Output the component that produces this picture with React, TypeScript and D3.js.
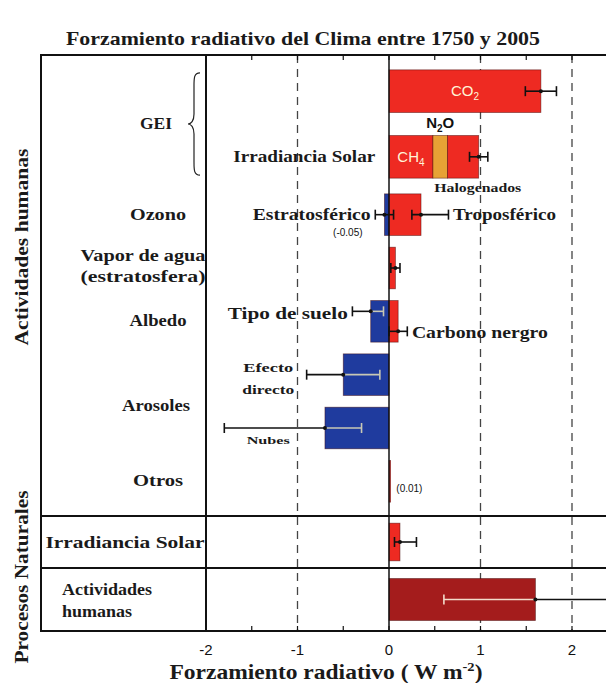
import React from "react";
import * as d3 from "d3";

const width = 606;
const height = 683;

const SERIF = "'Liberation Serif', 'Times New Roman', serif";
const SANS = "'Liberation Sans', Arial, sans-serif";

// rows, top to bottom, grouped by section
const geiRows = ["co2", "noCo2"];
const otherRows = ["ozono", "vapor", "albedo", "directo", "nubes", "otros"];
const naturalRows = ["solar"];
const netRows = ["neto"];

// bar pieces (W m-2)
const segments = [
  { row: "co2", from: 0, to: 1.66, kind: "pos" },
  { row: "noCo2", from: 0, to: 0.48, kind: "pos" },
  { row: "noCo2", from: 0.48, to: 0.64, kind: "n2o" },
  { row: "noCo2", from: 0.64, to: 0.98, kind: "pos" },
  { row: "ozono", from: -0.05, to: 0, kind: "neg" },
  { row: "ozono", from: 0, to: 0.35, kind: "pos" },
  { row: "vapor", from: 0, to: 0.07, kind: "pos" },
  { row: "albedo", from: -0.2, to: 0, kind: "neg" },
  { row: "albedo", from: 0, to: 0.1, kind: "pos" },
  { row: "directo", from: -0.5, to: 0, kind: "neg" },
  { row: "nubes", from: -0.7, to: 0, kind: "neg" },
  { row: "otros", from: 0, to: 0.01, kind: "pos" },
  { row: "solar", from: 0, to: 0.12, kind: "pos" },
  { row: "neto", from: 0, to: 1.6, kind: "net" },
];

// uncertainty ranges; lane = sub-position inside the row
const ranges = [
  { row: "co2", lo: 1.49, hi: 1.83, mid: 1.66, lane: 0, barFrom: 0, barTo: 1.66, light: false },
  { row: "noCo2", lo: 0.88, hi: 1.08, mid: 0.98, lane: 0, barFrom: 0, barTo: 0.98, light: false },
  { row: "ozono", lo: -0.15, hi: 0.05, mid: -0.05, lane: 0, barFrom: -0.05, barTo: 0, light: false },
  { row: "ozono", lo: 0.25, hi: 0.65, mid: 0.35, lane: 0, barFrom: 0, barTo: 0.35, light: false },
  { row: "vapor", lo: 0.02, hi: 0.12, mid: 0.07, lane: 0, barFrom: 0, barTo: 0.07, light: false },
  { row: "albedo", lo: -0.4, hi: -0.06, mid: -0.2, lane: -1, barFrom: -0.2, barTo: 0, light: true },
  { row: "albedo", lo: 0.0, hi: 0.2, mid: 0.1, lane: 1, barFrom: 0, barTo: 0.1, light: false },
  { row: "directo", lo: -0.9, hi: -0.1, mid: -0.5, lane: 0, barFrom: -0.5, barTo: 0, light: true },
  { row: "nubes", lo: -1.8, hi: -0.3, mid: -0.7, lane: 0, barFrom: -0.7, barTo: 0, light: true },
  { row: "solar", lo: 0.06, hi: 0.3, mid: 0.12, lane: 0, barFrom: 0, barTo: 0.12, light: false },
  { row: "neto", lo: 0.6, hi: 2.4, mid: 1.6, lane: 0, barFrom: 0, barTo: 1.6, light: true },
];

const xTicks = [-2, -1, 0, 1, 2];
const dashedAt = [-1, 1, 2];

const colors = {
  pos: "#ee2a22",
  n2o: "#e7a235",
  neg: "#1f3b9e",
  net: "#a41c1c",
};

// layout
const frame = { left: 41, top: 55, bottom: 631, divider: 206 };
const sec1 = 516;
const sec2 = 568;

const x = d3.scaleLinear().domain([-2, 2]).range([206, 572]);

const yGei = d3.scaleBand().domain(geiRows).range([60, 188]).paddingInner(0.35).paddingOuter(0.15);
const yOther = d3.scaleBand().domain(otherRows).range([188, 508]).paddingInner(0.22).paddingOuter(0.11);
const ySolar = d3.scaleBand().domain(naturalRows).range([sec1, sec2]).padding(0.16);
const yNet = d3.scaleBand().domain(netRows).range([sec2, frame.bottom]).padding(0.2);

function band(row: string) {
  for (const s of [yGei, yOther, ySolar, yNet]) {
    if (s.domain().includes(row)) return { y: s(row) as number, h: s.bandwidth() };
  }
  return { y: 0, h: 0 };
}
const mid = (row: string) => band(row).y + band(row).h / 2;

function ErrorBar({ r }: { r: (typeof ranges)[number] }) {
  const y = mid(r.row) + r.lane * 10;
  const cap = 5;
  const lightCol = r.row === "neto" ? "#f3dccb" : "#c8c8b4";
  const inLo = Math.max(r.lo, r.barFrom);
  const inHi = Math.min(r.hi, r.barTo);
  const parts: { a: number; b: number; c: string }[] = [];
  if (r.light && inHi > inLo) {
    if (r.lo < inLo) parts.push({ a: r.lo, b: inLo, c: "#111" });
    parts.push({ a: inLo, b: inHi, c: lightCol });
    if (r.hi > inHi) parts.push({ a: inHi, b: r.hi, c: "#111" });
  } else {
    parts.push({ a: r.lo, b: r.hi, c: "#111" });
  }
  const capCol = (v: number) => (r.light && v >= r.barFrom && v <= r.barTo ? lightCol : "#111");
  return (
    <g>
      {parts.map((p, i) => (
        <line key={i} x1={x(p.a)} x2={x(p.b)} y1={y} y2={y} stroke={p.c} strokeWidth={1.6} />
      ))}
      {[r.lo, r.hi].map((v, i) => (
        <line key={"c" + i} x1={x(v)} x2={x(v)} y1={y - cap} y2={y + cap} stroke={capCol(v)} strokeWidth={1.6} />
      ))}
      <circle cx={x(r.mid)} cy={y} r={2} fill="#111" />
    </g>
  );
}

// bold serif label stretched to the width it has in the original
function L({ w, size = 16, children, ...rest }: any) {
  return (
    <text fontFamily={SERIF} fontWeight={700} fill="#1a1a1a" fontSize={size}
      textLength={w} lengthAdjust="spacingAndGlyphs" {...rest}>
      {children}
    </text>
  );
}

export default function App() {
  const half = d3.range(-1.5, 2.01, 0.5);
  const geiTop = band("co2").y;
  const geiBot = band("noCo2").y + band("noCo2").h;
  const geiMid = (geiTop + geiBot) / 2;
  const bx = 200;

  return (
    <svg width={width} height={height} style={{ position: "absolute", left: 0, top: 0, background: "#fff" }}>
      <rect width={width} height={height} fill="#fff" />
      <L x={303} y={45} textAnchor="middle" size={19} w={474}>
        Forzamiento radiativo del Clima entre 1750 y 2005
      </L>

      {/* dashed reference lines */}
      {dashedAt.map((v) => (
        <line key={v} x1={x(v)} x2={x(v)} y1={frame.top} y2={frame.bottom} stroke="#444" strokeWidth={1.3} strokeDasharray="8 6" />
      ))}

      {/* bars */}
      {segments.map((s, i) => {
        const b = band(s.row);
        const x0 = x(Math.min(s.from, s.to));
        const w = Math.max(1.6, Math.abs(x(s.to) - x(s.from)));
        return (
          <rect key={i} x={x0} y={b.y} width={w} height={b.h} fill={colors[s.kind as keyof typeof colors]}
            stroke="rgba(60,0,0,0.55)" strokeWidth={0.8} />
        );
      })}

      {/* zero line */}
      <line x1={x(0)} x2={x(0)} y1={frame.top} y2={frame.bottom} stroke="#111" strokeWidth={1.5} />

      {ranges.map((r, i) => (
        <ErrorBar key={i} r={r} />
      ))}

      {/* frame */}
      <rect x={frame.left} y={frame.top} width={width} height={frame.bottom - frame.top} fill="none" stroke="#111" strokeWidth={2} />
      <line x1={frame.divider} x2={frame.divider} y1={frame.top} y2={frame.bottom} stroke="#111" strokeWidth={2} />
      <line x1={frame.left} x2={width} y1={sec1} y2={sec1} stroke="#111" strokeWidth={2} />
      <line x1={frame.left} x2={width} y1={sec2} y2={sec2} stroke="#111" strokeWidth={2} />

      {/* minor ticks */}
      {half.map((v) => (
        <g key={v}>
          <line x1={x(v)} x2={x(v)} y1={frame.top} y2={frame.top + 5} stroke="#111" strokeWidth={1.2} />
          <line x1={x(v)} x2={x(v)} y1={frame.bottom} y2={frame.bottom - 5} stroke="#111" strokeWidth={1.2} />
        </g>
      ))}

      {/* tick labels */}
      {xTicks.map((v) => (
        <text key={v} x={x(v)} y={655} textAnchor="middle" fontFamily={SANS} fontSize={15} fill="#111">
          {v}
        </text>
      ))}
      <text x={326} y={679} textAnchor="middle" fontFamily={SERIF} fontWeight={700} fontSize={21} fill="#1a1a1a"
        textLength={313} lengthAdjust="spacingAndGlyphs">
        Forzamiento radiativo ( W m<tspan dy={-8} fontSize={13}>-2</tspan><tspan dy={8}>)</tspan>
      </text>

      {/* rotated section labels */}
      <L transform={`translate(28,247) rotate(-90)`} textAnchor="middle" size={19} w={197}>
        Actividades humanas
      </L>
      <L transform={`translate(28,577) rotate(-90)`} textAnchor="middle" size={19} w={173}>
        Procesos Naturales
      </L>

      {/* left category labels */}
      <L x={156} y={geiMid + 5} textAnchor="middle" w={32}>GEI</L>
      <path
        d={`M${bx},${geiTop + 3} C${bx - 6},${geiTop + 3} ${bx - 6},${geiTop + 8} ${bx - 6},${geiTop + 16} L${bx - 6},${geiMid - 10}
            C${bx - 6},${geiMid - 3} ${bx - 9},${geiMid} ${bx - 12},${geiMid} C${bx - 9},${geiMid} ${bx - 6},${geiMid + 3} ${bx - 6},${geiMid + 10}
            L${bx - 6},${geiBot - 16} C${bx - 6},${geiBot - 8} ${bx - 6},${geiBot - 3} ${bx},${geiBot - 3}`}
        fill="none" stroke="#222" strokeWidth={1.2}
      />
      <L x={158} y={mid("ozono") + 5} textAnchor="middle" w={56}>Ozono</L>
      <L x={143} y={mid("vapor") - 7} textAnchor="middle" w={125}>Vapor de agua</L>
      <L x={143} y={mid("vapor") + 14} textAnchor="middle" w={125}>(estratosfera)</L>
      <L x={158} y={mid("albedo") + 5} textAnchor="middle" w={57}>Albedo</L>
      <L x={156} y={(mid("directo") + mid("nubes")) / 2 + 10} textAnchor="middle" w={68}>Arosoles</L>
      <L x={158} y={mid("otros") + 5} textAnchor="middle" w={50}>Otros</L>
      <L x={125} y={mid("solar") + 6} textAnchor="middle" size={17} w={159}>Irradiancia Solar</L>
      <L x={62} y={mid("neto") - 5} size={16} w={90}>Actividades</L>
      <L x={62} y={mid("neto") + 17} size={16} w={70}>humanas</L>

      {/* in-plot labels */}
      <text x={x(0.83)} y={mid("co2") + 5} textAnchor="middle" fontFamily={SANS} fontSize={15} fill="#fff4d8">
        CO<tspan dy={4} fontSize={10}>2</tspan>
      </text>
      <text x={x(0.24)} y={mid("noCo2") + 5} textAnchor="middle" fontFamily={SANS} fontSize={15} fill="#fff4d8">
        CH<tspan dy={4} fontSize={10}>4</tspan>
      </text>
      <text x={x(0.56)} y={band("noCo2").y - 7} textAnchor="middle" fontFamily={SANS} fontSize={15} fontWeight={700} fill="#111">
        N<tspan dy={4} fontSize={10}>2</tspan><tspan dy={-4}>O</tspan>
      </text>
      <L x={x(0.97)} y={band("noCo2").y + band("noCo2").h + 14} textAnchor="middle" size={12} w={87}>Halogenados</L>
      <L x={x(-0.15)} y={mid("noCo2") + 5} textAnchor="end" size={16} w={142}>Irradiancia Solar</L>
      <L x={x(-0.2)} y={mid("ozono") + 5} textAnchor="end" size={16} w={118}>Estratosférico</L>
      <text x={x(-0.45)} y={mid("ozono") + 21} textAnchor="middle" fontFamily={SANS} fontSize={10} fill="#111">(-0.05)</text>
      <L x={x(0.7)} y={mid("ozono") + 5} size={16} w={103}>Troposférico</L>
      <L x={x(-0.45)} y={mid("albedo") - 2} textAnchor="end" size={17} w={120}>Tipo de suelo</L>
      <L x={x(0.25)} y={mid("albedo") + 17} size={16} w={136}>Carbono nergro</L>
      <L x={x(-1.32)} y={mid("directo") - 3} textAnchor="middle" size={13} w={50}>Efecto</L>
      <L x={x(-1.32)} y={mid("directo") + 19} textAnchor="middle" size={13} w={52}>directo</L>
      <L x={x(-1.32)} y={mid("nubes") + 16} textAnchor="middle" size={11} w={43}>Nubes</L>
      <text x={x(0.08)} y={mid("otros") + 11} fontFamily={SANS} fontSize={10} fill="#111">(0.01)</text>
    </svg>
  );
}
